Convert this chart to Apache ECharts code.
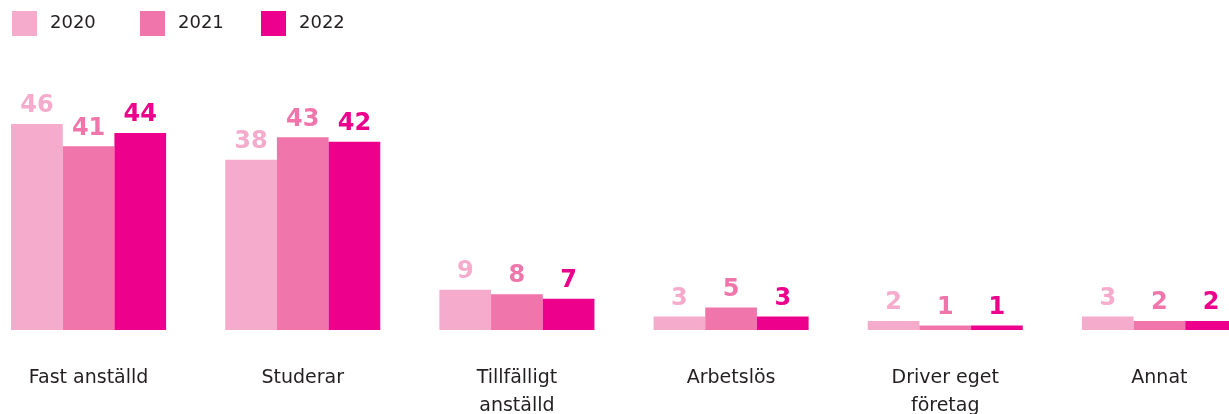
<!DOCTYPE html>
<html><head><meta charset="utf-8">
<script src="https://cdn.jsdelivr.net/npm/echarts@6/dist/echarts.min.js"></script>
<style>html,body{margin:0;padding:0;background:#fff}#c{width:1229px;height:414px}</style>
</head><body><div id="c"></div>
<script>
const categories = ['Fast anställd', 'Studerar', 'Tillfälligt\nanställd', 'Arbetslös', 'Driver eget\nföretag', 'Annat'];
const seriesNames = ['2020', '2021', '2022'];
const values2020 = [46, 38, 9, 3, 2, 3];
const values2021 = [41, 43, 8, 5, 1, 2];
const values2022 = [44, 42, 7, 3, 1, 2];
const colors = ['#F5ABCC', '#F075AA', '#EC008C'];

const allValues = [values2020, values2021, values2022];
const chart = echarts.init(document.getElementById('c'), null, {renderer: 'canvas'});
const legendLefts = [7, 135, 256];
chart.setOption({
  animation: false,
  color: colors,
  legend: seriesNames.map((n, i) => ({
    data: [n], left: legendLefts[i], top: 6, itemWidth: 25, itemHeight: 25, icon: 'rect',
    textStyle: {fontFamily: 'DejaVu Sans', fontSize: 18, color: '#231f20', padding: [0, 0, 0, 8]}
  })),
  grid: {left: -18.5, right: -37.5, top: 106, bottom: 84, containLabel: false, outerBoundsMode: 'none'},
  xAxis: {
    type: 'category', data: categories,
    axisLine: {show: false}, axisTick: {show: false},
    axisLabel: {interval: 0, margin: 34, fontFamily: 'DejaVu Sans', fontSize: 19, lineHeight: 28, color: '#231f20'}
  },
  yAxis: {type: 'value', min: 0, max: 50, show: false, splitLine: {show: false}},
  series: seriesNames.map((n, i) => ({
    name: n, type: 'bar', data: allValues[i],
    barGap: '0%', barCategoryGap: '27.6%',
    itemStyle: {color: colors[i]},
    label: {show: true, position: 'top', distance: 6, color: colors[i],
      fontFamily: 'DejaVu Sans', fontWeight: 'bold', fontSize: 24}
  }))
});
</script></body></html>
